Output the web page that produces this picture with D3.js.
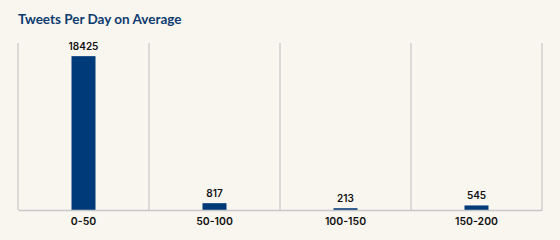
<!DOCTYPE html>
<html lang="en">
  <head>
    <meta charset="UTF-8" />
    <title>Tweets Per Day on Average</title>
    <style>
      body { margin: 0; background: #f9f6f0; }
      svg { display: block; }
    </style>
  </head>
  <body>
    <div id="chart"></div>

    <script src="https://cdn.jsdelivr.net/npm/d3@7"></script>
    <script>
      var categories = ["0-50", "50-100", "100-150", "150-200"];
      var tweets = [18425, 817, 213, 545];

      var w = 560,
          h = 240;
      var margin = { top: 43, right: 18, bottom: 30, left: 18 };

      var svg = d3.select("#chart").append("svg")
         .attr("width", w)
         .attr("height", h);

      svg.append("rect")
         .attr("width", w)
         .attr("height", h)
         .attr("fill", "#f9f6f0");

      svg.append("text")
         .attr("x", 18)
         .attr("y", 24)
         .attr("fill", "#0d3b6e")
         .style("font-family", "Lato, sans-serif")
         .style("font-weight", "bold")
         .style("font-size", "13.5px")
         .text("Tweets Per Day on Average");

      var xScale = d3.scaleBand()
                     .domain(categories)
                     .range([margin.left, w - margin.right]);
      var yScale = d3.scaleLinear()
                     .domain([0, 20000])
                     .range([h - margin.bottom, margin.top]);

      // vertical separators
      var edges = categories.map(function(c) { return xScale(c); });
      edges.push(xScale.range()[1]);
      svg.selectAll(".sep")
         .data(edges)
         .enter()
         .append("line")
         .attr("class", "sep")
         .attr("x1", function(d) { return d; })
         .attr("x2", function(d) { return d; })
         .attr("y1", margin.top)
         .attr("y2", h - margin.bottom)
         .attr("stroke", "#cfcfcf")
         .attr("stroke-width", 1.5);

      var barW = 24;
      svg.selectAll(".bar")
         .data(tweets)
         .enter()
         .append("rect")
         .attr("class", "bar")
         .attr("x", function(d, i) { return xScale(categories[i]) + xScale.bandwidth() / 2 - barW / 2; })
         .attr("y", function(d) { return yScale(d); })
         .attr("width", barW)
         .attr("height", function(d) { return yScale(0) - yScale(d); })
         .attr("fill", "#003a78");

      svg.selectAll(".val")
         .data(tweets)
         .enter()
         .append("text")
         .attr("class", "val")
         .attr("x", function(d, i) { return xScale(categories[i]) + xScale.bandwidth() / 2; })
         .attr("y", function(d) { return yScale(d) - 6; })
         .attr("text-anchor", "middle")
         .attr("fill", "#111")
         .style("font-family", "Inter, sans-serif")
         .style("font-weight", "600")
         .style("font-size", "10px")
         .text(function(d) { return d; });

      var xAxis = d3.axisBottom(xScale).tickSize(0).tickPadding(8);
      var gx = svg.append("g")
         .attr("transform", "translate(0," + (h - margin.bottom) + ")")
         .call(xAxis);
      gx.select(".domain")
        .attr("stroke", "#c8c8c8")
        .attr("stroke-width", 1.5);
      gx.selectAll("text")
        .attr("fill", "#111")
        .style("font-family", "Inter, sans-serif")
        .style("font-weight", "600")
        .style("font-size", "10.5px");
    </script>
  </body>
</html>
